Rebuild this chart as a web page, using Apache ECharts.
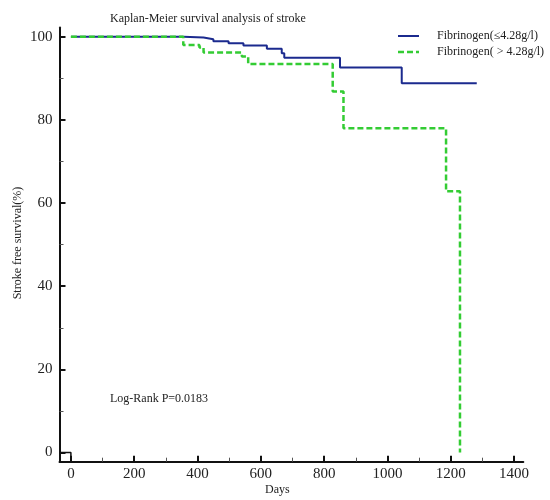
<!DOCTYPE html>
<html>
<head>
<meta charset="utf-8">
<script src="https://cdn.jsdelivr.net/npm/echarts@6/dist/echarts.min.js"></script>
<style>html,body{margin:0;padding:0;background:#fff}#c{width:550px;height:500px}</style>
</head>
<body>
<div id="c"></div>
<script>
// Data
var seriesNames = ['Fibrinogen(\u22644.28g/l)', 'Fibrinogen( > 4.28g/l)'];
var daysLow = [0, 355, 419, 450, 498, 545, 619, 666, 674, 850, 1045, 1282];
var survLow = [100, 99.8, 99.4, 98.9, 98.4, 97.9, 97.1, 96.0, 94.9, 92.6, 88.8, 88.8];
var daysHigh = [0, 355, 406, 419, 540, 560, 827, 861, 1185, 1229];
var survHigh = [100, 98.0, 97.4, 96.2, 95.2, 93.4, 86.8, 78.0, 62.8, 0];
var xTicks = [0, 200, 400, 600, 800, 1000, 1200, 1400];
var xMinorTicks = [100, 300, 500, 700, 900, 1100, 1300];
var yTicks = [0, 20, 40, 60, 80, 100];
var yMinorTicks = [10, 30, 50, 70, 90];
var originBox = [[-36, 0], [0, 0], [0, -2.2]];
var titleText = 'Kaplan-Meier survival analysis of stroke';
var pText = 'Log-Rank P=0.0183';
var xName = 'Days';
var yName = 'Stroke free survival(%)';

var serif = '"Liberation Serif", "DejaVu Serif", serif';
var X_MIN = -36, X_MAX = 1429, Y_MIN = -2.2, Y_MAX = 102.2;
var BLUE = '#1b2a8e', GREEN = '#33cc33';

function zip(a, b) { return a.map(function (v, i) { return [v, b[i]]; }); }
function plain(v) { return String(v); }

var chart = echarts.init(document.getElementById('c'), null, { renderer: 'canvas' });
chart.setOption({
  animation: false,
  backgroundColor: '#fff',
  grid: { left: 59.5, right: 26.7, top: 27.5, bottom: 38.3, containLabel: false },
  xAxis: [{
    type: 'value', min: X_MIN, max: X_MAX, position: 'bottom',
    axisLine: { show: true, onZero: false, lineStyle: { color: '#111', width: 2 } },
    axisTick: { show: true, inside: true, length: 6, customValues: xTicks, lineStyle: { color: '#111', width: 2 } },
    axisLabel: { show: true, customValues: xTicks, formatter: plain, margin: 5, fontFamily: serif, fontSize: 15, color: '#222' },
    splitLine: { show: false }
  }, {
    type: 'value', min: X_MIN, max: X_MAX, position: 'bottom', gridIndex: 0,
    axisLine: { show: false, onZero: false },
    axisTick: { show: true, inside: true, length: 4, customValues: xMinorTicks, lineStyle: { color: '#555', width: 1 } },
    axisLabel: { show: false },
    splitLine: { show: false }
  }],
  yAxis: [{
    type: 'value', min: Y_MIN, max: Y_MAX, position: 'left',
    axisLine: { show: true, onZero: false, lineStyle: { color: '#111', width: 2 } },
    axisTick: { show: true, inside: true, length: 6, customValues: yTicks, lineStyle: { color: '#111', width: 2 } },
    axisLabel: { show: true, customValues: yTicks, formatter: plain, margin: 7, fontFamily: serif, fontSize: 15, color: '#222' },
    splitLine: { show: false }
  }, {
    type: 'value', min: Y_MIN, max: Y_MAX, position: 'left', gridIndex: 0,
    axisLine: { show: false, onZero: false },
    axisTick: { show: true, inside: true, length: 4, customValues: yMinorTicks, lineStyle: { color: '#555', width: 1 } },
    axisLabel: { show: false },
    splitLine: { show: false }
  }],
  series: [{
    name: seriesNames[0], type: 'line', step: 'end', xAxisIndex: 0, yAxisIndex: 0,
    data: zip(daysLow, survLow), symbol: 'none', showSymbol: false,
    lineStyle: { color: BLUE, width: 2 }, itemStyle: { color: BLUE }, z: 2
  }, {
    name: seriesNames[1], type: 'line', step: 'end', xAxisIndex: 0, yAxisIndex: 0,
    data: zip(daysHigh, survHigh), symbol: 'none', showSymbol: false,
    lineStyle: { color: GREEN, width: 2.5, type: [6, 3] }, itemStyle: { color: GREEN }, z: 3
  }, {
    name: 'box', type: 'line', xAxisIndex: 0, yAxisIndex: 0, data: originBox,
    symbol: 'none', silent: true, lineStyle: { color: '#111', width: 1.5 }, z: 1
  }],
  graphic: [
    { type: 'text', left: 110, top: 13, style: { text: titleText, font: '12px ' + serif, fill: '#222' } },
    { type: 'text', left: 110, top: 393, style: { text: pText, font: '12px ' + serif, fill: '#222' } },
    { type: 'text', left: 265, top: 484, style: { text: xName, font: '12px ' + serif, fill: '#222' } },
    { type: 'text', x: 18, y: 243, rotation: Math.PI / 2,
      style: { text: yName, font: '12px ' + serif, fill: '#222', textAlign: 'center', textVerticalAlign: 'middle' } },
    // legend
    { type: 'line', shape: { x1: 398, y1: 36, x2: 419, y2: 36 }, style: { stroke: BLUE, lineWidth: 2 } },
    { type: 'text', x: 437, y: 36, style: { text: seriesNames[0], font: '12px ' + serif, fill: '#222', textVerticalAlign: 'middle' } },
    { type: 'line', shape: { x1: 398, y1: 52, x2: 419, y2: 52 }, style: { stroke: GREEN, lineWidth: 2.5, lineDash: [6, 3] } },
    { type: 'text', x: 437, y: 52, style: { text: seriesNames[1], font: '12px ' + serif, fill: '#222', textVerticalAlign: 'middle' } }
  ]
});
</script>
</body>
</html>
